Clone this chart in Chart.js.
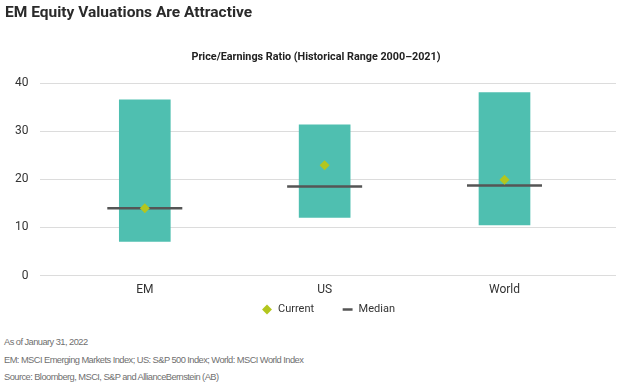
<!DOCTYPE html>
<html>
<head>
<meta charset="utf-8">
<script src="https://cdn.jsdelivr.net/npm/chart.js@4"></script>
<style>
  html, body { margin:0; padding:0; background:#fff; }
  body { width:624px; height:385px; position:relative; overflow:hidden; }
  #title { position:absolute; left:5px; top:3px; font-family:Roboto, sans-serif; font-weight:700; font-size:15.5px; color:#2a2a2a; }
  #subtitle { position:absolute; left:0; width:632px; top:50px; text-align:center; font-family:Roboto, sans-serif; font-weight:700; font-size:10.8px; color:#222; }
  #wrap { position:absolute; left:0; top:0; width:624px; height:327px; }
  .note { position:absolute; left:4px; font-family:"Liberation Sans", Arial, sans-serif; font-size:9.3px; color:#6f6f6f; letter-spacing:-0.55px; }
</style>
</head>
<body>
<div id="wrap"><canvas id="c"></canvas></div>
<div id="title">EM Equity Valuations Are Attractive</div>
<div id="subtitle">Price/Earnings Ratio (Historical Range 2000–2021)</div>
<div class="note" style="top:337px">As of January 31, 2022</div>
<div class="note" style="top:355px">EM: MSCI Emerging Markets Index; US: S&amp;P 500 Index; World: MSCI World Index</div>
<div class="note" style="top:372px">Source: Bloomberg, MSCI, S&amp;P and AllianceBernstein (AB)</div>
<script>
const categories = ['EM', 'US', 'World'];
const rangeLow  = [7.1, 12.1, 10.5];
const rangeHigh = [36.5, 31.3, 38.0];
const current   = [14.0, 22.9, 19.9];
const median    = [14.0, 18.5, 18.7];
const yTicks    = [0, 10, 20, 30, 40];

const font = { family: 'Roboto, sans-serif', size: 12 };

new Chart(document.getElementById('c'), {
  type: 'bar',
  data: {
    datasets: [
      {
        type: 'scatter',
        label: 'Current',
        data: categories.map((c, i) => ({ x: i, y: current[i] })),
        pointStyle: 'rectRot',
        radius: 5,
        backgroundColor: '#b3c61e',
        borderColor: '#b3c61e',
        borderWidth: 0,
        order: 1
      },
      {
        type: 'scatter',
        label: 'Median',
        data: categories.map((c, i) => ({ x: i, y: median[i] })),
        pointStyle: 'line',
        radius: 37.5,
        borderColor: '#555555',
        backgroundColor: '#555555',
        borderWidth: 2.5,
        order: 2
      },
      {
        label: 'Range',
        data: categories.map((c, i) => ({ x: i, y: [rangeLow[i], rangeHigh[i]] })),
        backgroundColor: '#4fbfb0',
        borderWidth: 0,
        barThickness: 51,
        order: 3
      }
    ]
  },
  options: {
    responsive: true,
    maintainAspectRatio: false,
    animation: false,
    layout: { autoPadding: false, padding: { top: 83, right: 8, left: 3, bottom: 2 } },
    plugins: {
      tooltip: { enabled: false },
      legend: {
        position: 'bottom',
        fullSize: false,
        labels: {
          usePointStyle: true,
          boxHeight: 7,
          padding: 0,
          color: '#333',
          font: { family: 'Roboto, sans-serif', size: 11 },
          filter: (item) => item.text !== 'Range',
          generateLabels: (chart) => {
            const items = Chart.defaults.plugins.legend.labels.generateLabels(chart);
            items.forEach(it => { if (it.text === 'Current') it.text = 'Current\u2002\u2002\u2002\u2002\u2002'; });
            return items;
          }
        }
      }
    },
    scales: {
      x: {
        type: 'linear',
        min: -0.58,
        max: 2.62,
        offset: false,
        grid: { display: false, drawTicks: false },
        border: { display: false },
        afterBuildTicks: (axis) => { axis.ticks = categories.map((c, i) => ({ value: i })); },
        afterFit: (axis) => { axis.paddingLeft = 0; axis.paddingRight = 0; },
        ticks: {
          color: '#333',
          font: font,
          padding: 7,
          callback: (v) => categories[v] ?? ''
        }
      },
      y: {
        min: 0,
        max: 40,
        afterBuildTicks: (axis) => { axis.ticks = yTicks.map(v => ({ value: v })); },
        grid: { color: '#dcdcdc', lineWidth: 1, drawTicks: false },
        border: { display: false },
        ticks: { color: '#333', font: font, padding: 12 }
      }
    }
  }
});
</script>
</body>
</html>
